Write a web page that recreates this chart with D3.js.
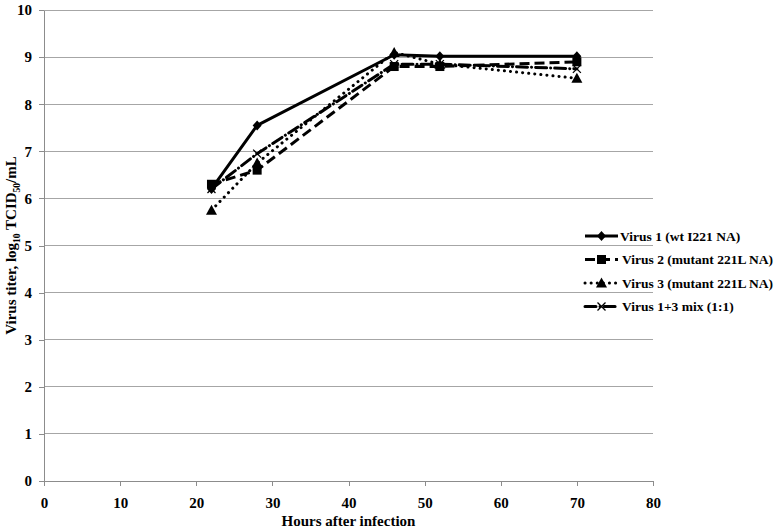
<!DOCTYPE html>
<html><head><meta charset="utf-8">
<script src="https://cdn.jsdelivr.net/npm/d3@7"></script>
<style>body{margin:0;background:#fff}svg{display:block}text{font-family:"Liberation Serif","Times New Roman",serif;font-weight:bold}</style>
</head><body>
<script>
const hours = [22, 28, 46, 52, 70];
const seriesNames = ["Virus 1 (wt I221 NA)", "Virus 2 (mutant 221L NA)", "Virus 3 (mutant 221L NA)", "Virus 1+3 mix (1:1)"];
const virus1 = [6.2, 7.55, 9.05, 9.02, 9.02];
const virus2 = [6.3, 6.6, 8.8, 8.8, 8.9];
const virus3 = [5.75, 6.75, 9.1, 8.85, 8.55];
const mix13 = [6.2, 6.95, 8.85, 8.85, 8.75];
const xTicks = [0, 10, 20, 30, 40, 50, 60, 70, 80];
const yTicks = [0, 1, 2, 3, 4, 5, 6, 7, 8, 9, 10];

const W = 777, H = 532;
const svg = d3.select("body").append("svg").attr("width", W).attr("height", H);
const x = d3.scaleLinear().domain([0, 80]).range([44, 653]);
const y = d3.scaleLinear().domain([0, 10]).range([481, 10]);

// gridlines
svg.append("g").selectAll("line").data(yTicks.slice(1)).join("line")
  .attr("x1", x(0)).attr("x2", x(80)).attr("y1", d => y(d)).attr("y2", d => y(d))
  .attr("stroke", "#a6a6a6").attr("stroke-width", 1).attr("shape-rendering", "crispEdges");

const yAxis = svg.append("g").attr("transform", `translate(${x(0)},0)`)
  .call(d3.axisLeft(y).tickValues(yTicks).tickSize(5).tickSizeOuter(0).tickPadding(7));
const xAxis = svg.append("g").attr("transform", `translate(0,${y(0)})`)
  .call(d3.axisBottom(x).tickValues(xTicks).tickSize(5).tickSizeOuter(0).tickPadding(6));
[yAxis, xAxis].forEach(a => {
  a.select(".domain").attr("stroke", "#8c8c8c").attr("shape-rendering", "crispEdges");
  a.selectAll(".tick line").attr("stroke", "#8c8c8c").attr("shape-rendering", "crispEdges");
  a.selectAll("text").attr("fill", "#000").style("font-size", "15px")
    .style("font-family", '"Liberation Serif",serif').style("font-weight", "bold");
});
xAxis.selectAll("text").attr("dy", "1.05em");

// axis titles
svg.append("text").attr("x", (x(0) + x(80)) / 2).attr("y", 526).attr("text-anchor", "middle")
  .style("font-size", "15px").text("Hours after infection");
const yt = svg.append("text").attr("transform", `translate(16,${y(5)}) rotate(-90)`)
  .attr("text-anchor", "middle").style("font-size", "15px");
yt.append("tspan").text("Virus titer, log");
yt.append("tspan").attr("dy", 4).style("font-size", "9.5px").text("10");
yt.append("tspan").attr("dy", -4).text(" TCID");
yt.append("tspan").attr("dy", 4).style("font-size", "9.5px").text("50");
yt.append("tspan").attr("dy", -4).text("/mL");

const styles = [
  {dash: null, cap: "butt", marker: "diamond"},
  {dash: "10,5", cap: "butt", marker: "square"},
  {dash: "0.1,6", cap: "round", marker: "triangle"},
  {dash: "11,4,0.1,4", cap: "round", marker: "x"}
];
const allSeries = [virus1, virus2, virus3, mix13];
const line = d3.line().x((d, i) => x(hours[i])).y(d => y(d));

function drawMarker(g, type, cx, cy) {
  if (type === "diamond") {
    g.append("path").attr("d", `M${cx},${cy-5}L${cx+4.5},${cy}L${cx},${cy+5}L${cx-4.5},${cy}Z`).attr("fill", "#000");
  } else if (type === "square") {
    g.append("rect").attr("x", cx-4.5).attr("y", cy-4.5).attr("width", 9).attr("height", 9).attr("fill", "#000");
  } else if (type === "triangle") {
    g.append("path").attr("d", `M${cx},${cy-5.5}L${cx+5.5},${cy+4.5}L${cx-5.5},${cy+4.5}Z`).attr("fill", "#000");
  } else {
    g.append("path").attr("d", `M${cx-4},${cy-4}L${cx+4},${cy+4}M${cx-4},${cy+4}L${cx+4},${cy-4}`)
      .attr("stroke", "#000").attr("stroke-width", 1.3).attr("fill", "none");
  }
}

// draw series from last to first so virus 1 is on top
for (let s = allSeries.length - 1; s >= 0; s--) {
  const st = styles[s];
  const g = svg.append("g");
  g.append("path").datum(allSeries[s]).attr("d", line).attr("fill", "none")
    .attr("stroke", "#000").attr("stroke-width", 3).attr("stroke-linecap", st.cap)
    .attr("stroke-linejoin", "round").attr("stroke-dasharray", st.dash);
  allSeries[s].forEach((v, i) => drawMarker(g, st.marker, x(hours[i]), y(v)));
}

// legend
const lg = svg.append("g");
seriesNames.forEach((name, i) => {
  const ly = 236 + i * 23.5;
  const st = styles[i];
  lg.append("line").attr("x1", 585).attr("x2", 618).attr("y1", ly).attr("y2", ly)
    .attr("stroke", "#000").attr("stroke-width", 3).attr("stroke-linecap", st.cap)
    .attr("stroke-dasharray", st.dash);
  drawMarker(lg, st.marker, 601.5, ly);
  lg.append("text").attr("x", i === 0 ? 620 : 622).attr("y", ly + 4.5).style("font-size", "13.5px").text(name);
});
</script>
</body></html>
